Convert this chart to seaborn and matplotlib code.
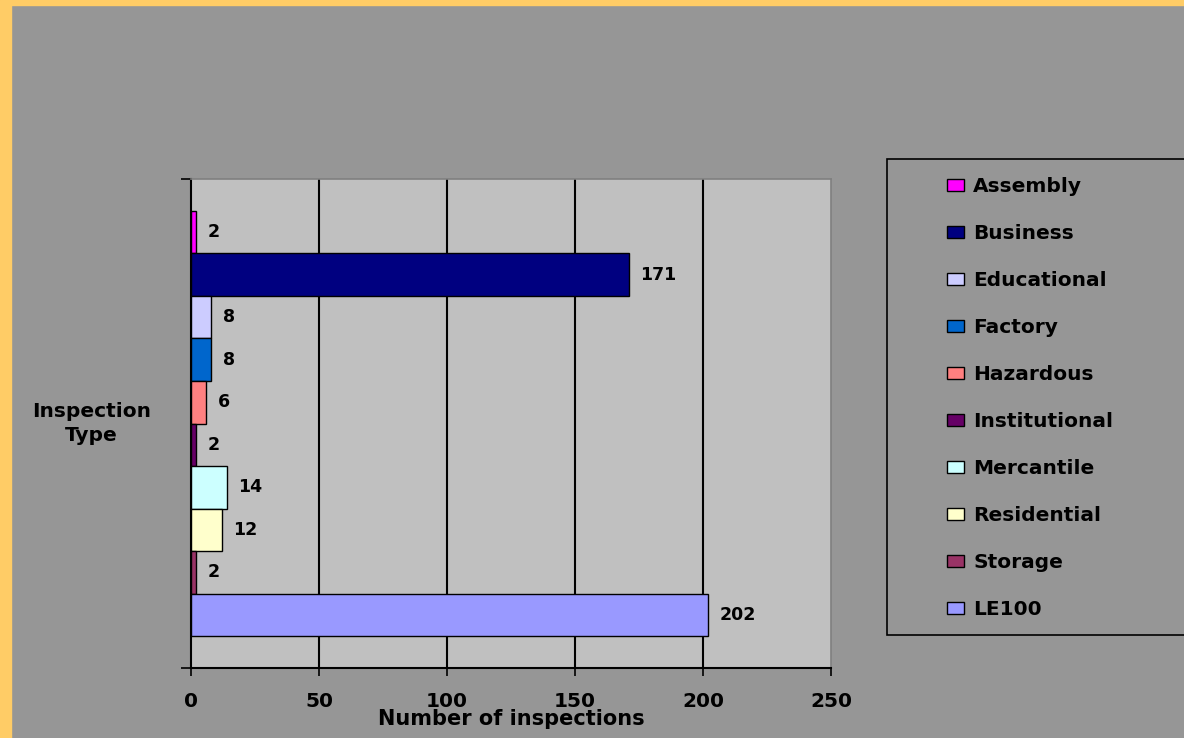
import pandas as pd
import matplotlib
matplotlib.use("Agg")
import matplotlib.pyplot as plt
from matplotlib.patches import Rectangle
import seaborn as sns

# data
types = ['Assembly', 'Business', 'Educational', 'Factory', 'Hazardous',
         'Institutional', 'Mercantile', 'Residential', 'Storage', 'LE100']
counts = [2, 171, 8, 8, 6, 2, 14, 12, 2, 202]
colors = ['#FF00FF', '#000080', '#CCCCFF', '#0066CC', '#FF8080',
          '#660066', '#CCFFFF', '#FFFFCC', '#993366', '#9999FF']
x_ticks = [0, 50, 100, 150, 200, 250]

df = pd.DataFrame({'type': types, 'count': counts, 'group': ['All'] * len(types)})

sns.set_theme(style='white')
plt.rcParams['font.family'] = ['DejaVu Sans']
plt.rcParams['font.weight'] = 'bold'
plt.rcParams['text.color'] = 'black'
plt.rcParams['axes.labelcolor'] = 'black'
plt.rcParams['xtick.color'] = 'black'
plt.rcParams['ytick.color'] = 'black'

bg = '#969696'
fig = plt.figure(figsize=(11.84, 7.38), dpi=100, facecolor=bg)
ax = fig.add_axes([191 / 1184, 1 - 668 / 738, 640 / 1184, 489 / 738])
ax.set_facecolor('#C0C0C0')

# orange frame strips (left and top)
fig.patches.append(Rectangle((0, 0), 11 / 1184, 1, transform=fig.transFigure,
                             color='#FFCC66', zorder=-2))
fig.patches.append(Rectangle((0, 1 - 5 / 738), 1, 5 / 738, transform=fig.transFigure,
                             color='#FFCC66', zorder=-2))

sns.barplot(data=df, x='count', y='group', hue='type', hue_order=types,
            palette=colors, orient='h', width=0.87, saturation=1,
            edgecolor='black', linewidth=1, ax=ax, zorder=3)

for c in ax.containers:
    ax.bar_label(c, padding=8, fontsize=12.5, fontweight='bold', color='black')

ax.set_xlim(0, 250)
ax.set_xticks(x_ticks)
ax.set_xticklabels([str(t) for t in x_ticks], fontsize=14.5, fontweight='bold')
ax.set_ylim(0.5, -0.5)
ax.set_yticks([-0.5, 0.5])
ax.set_yticklabels(['', ''])
ax.tick_params(axis='x', direction='out', length=6, width=1.2, pad=11, bottom=True)
ax.tick_params(axis='y', direction='out', length=7, width=1.2, left=True)

for x in x_ticks[1:-1]:
    ax.axvline(x, color='black', lw=1.5, zorder=1)

for s in ['left', 'bottom']:
    ax.spines[s].set_color('black')
    ax.spines[s].set_linewidth(1.5)
for s in ['top', 'right']:
    ax.spines[s].set_color('#808080')
    ax.spines[s].set_linewidth(1.2)

ax.set_xlabel('Number of inspections', fontsize=15, fontweight='bold')
ax.xaxis.set_label_coords(0.5, -0.083)
ax.set_ylabel('Inspection\nType', fontsize=14.5, fontweight='bold', rotation=0,
              ha='center', va='center', linespacing=1.3)
ax.yaxis.set_label_coords(-0.156, 0.5)

# legend box (runs off the right edge like the original)
fig.patches.append(Rectangle((887 / 1184, 1 - 635 / 738), 320 / 1184, 476 / 738,
                             transform=fig.transFigure, facecolor=bg,
                             edgecolor='black', lw=1.2, zorder=-1))
handles, labels = ax.get_legend_handles_labels()
if ax.get_legend():
    ax.get_legend().remove()
for h in handles:
    h.set_edgecolor('black')
    h.set_linewidth(1)
leg = fig.legend(handles, labels, loc='upper left',
                 bbox_to_anchor=(937 / 1184, 1 - 167 / 738),
                 frameon=False, fontsize=14.5, handlelength=0.85, handleheight=0.6,
                 handletextpad=0.45, labelspacing=1.39, borderpad=0)
for t in leg.get_texts():
    t.set_fontweight('bold')

fig.savefig('out.png', dpi=100, facecolor=bg)
